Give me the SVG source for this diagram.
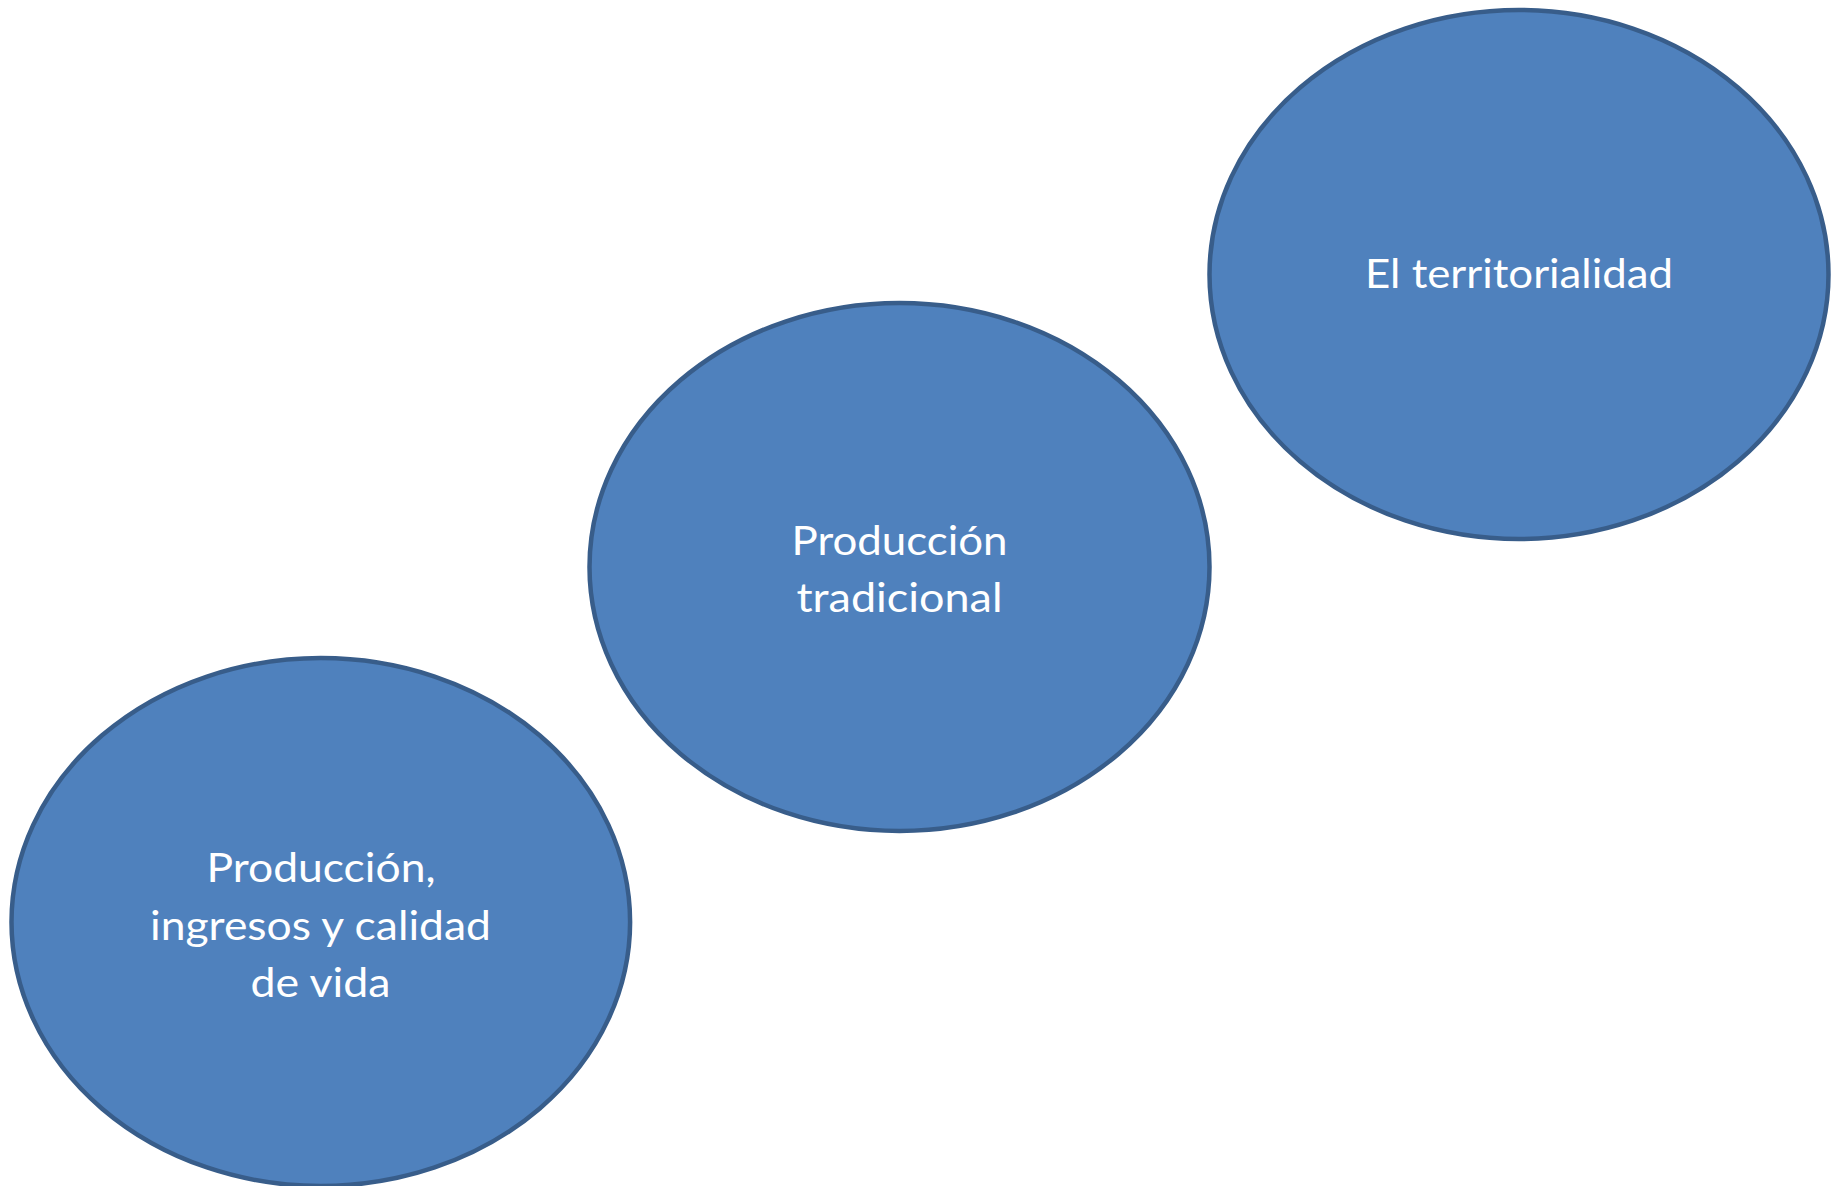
<svg xmlns="http://www.w3.org/2000/svg" width="1833" height="1186" viewBox="0 0 1833 1186">
  <style>
    .node ellipse { fill: #4F81BD; stroke: #385D8A; stroke-width: 4.5; }
    .node text { fill: #FFFFFF; font-family: Lato, "Open Sans", "Liberation Sans", sans-serif; font-size: 40px; text-anchor: middle; }
  </style>
  <rect width="1833" height="1186" fill="#FFFFFF"/>
  <g id="connectors"></g>
  <g id="node-territorialidad" class="node">
    <ellipse cx="1519" cy="274.5" rx="309.5" ry="264.5"/>
    <text x="1519" y="287.7" textLength="308" lengthAdjust="spacingAndGlyphs">El territorialidad</text>
  </g>
  <g id="node-produccion-tradicional" class="node">
    <ellipse cx="899.5" cy="567" rx="310" ry="264"/>
    <text x="899.5" y="554.5" textLength="216" lengthAdjust="spacingAndGlyphs">Producción</text>
    <text x="899.5" y="612" textLength="206" lengthAdjust="spacingAndGlyphs">tradicional</text>
  </g>
  <g id="node-produccion-ingresos" class="node">
    <ellipse cx="320.8" cy="922" rx="309.3" ry="264"/>
    <text x="321" y="882" textLength="229" lengthAdjust="spacingAndGlyphs">Producción,</text>
    <text x="320.5" y="939.5" textLength="341" lengthAdjust="spacingAndGlyphs">ingresos y calidad</text>
    <text x="320.5" y="997" textLength="140" lengthAdjust="spacingAndGlyphs">de vida</text>
  </g>
</svg>
